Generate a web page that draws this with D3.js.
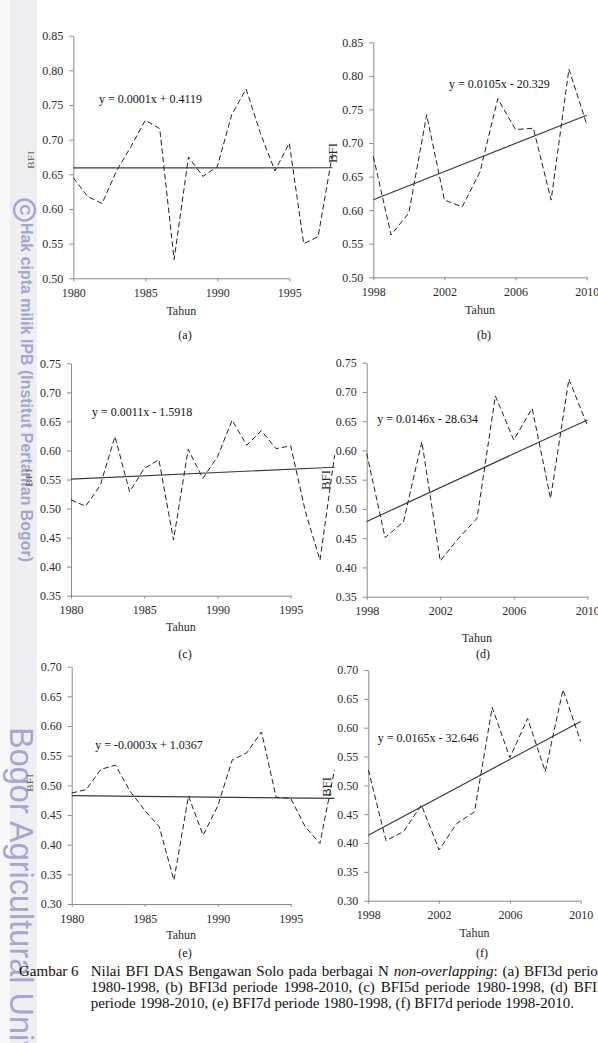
<!DOCTYPE html>
<html>
<head>
<meta charset="utf-8">
<script src="https://cdn.jsdelivr.net/npm/d3@7"></script>
<style>
  body { margin: 0; background: #fff; }
  svg { display: block; }
</style>
</head>
<body>
<div id="container"></div>
<script>
/* data */
var yearsEarly = [1980, 1981, 1982, 1983, 1984, 1985, 1986, 1987, 1988, 1989,
                  1990, 1991, 1992, 1993, 1994, 1995, 1996, 1997, 1998];
var yearsLate = [1998, 1999, 2000, 2001, 2002, 2003, 2004, 2005, 2006, 2007, 2008, 2009, 2010];

var bfi3dEarly = [0.645, 0.618, 0.608, 0.655, 0.690, 0.728, 0.716, 0.527, 0.675, 0.647,
                  0.661, 0.736, 0.773, 0.709, 0.655, 0.695, 0.550, 0.560, 0.680];
var bfi3dLate = [0.680, 0.563, 0.596, 0.742, 0.615, 0.605, 0.657, 0.766, 0.720, 0.722, 0.615, 0.810, 0.728];

var bfi5dEarly = [0.515, 0.504, 0.540, 0.624, 0.529, 0.569, 0.584, 0.446, 0.602, 0.552,
                  0.589, 0.652, 0.609, 0.634, 0.603, 0.608, 0.495, 0.411, 0.592];
var bfi5dLate = [0.595, 0.451, 0.478, 0.615, 0.411, 0.450, 0.484, 0.693, 0.618, 0.672, 0.518, 0.722, 0.643];

var bfi7dEarly = [0.487, 0.493, 0.527, 0.534, 0.490, 0.458, 0.430, 0.340, 0.482, 0.416,
                  0.465, 0.543, 0.555, 0.590, 0.480, 0.478, 0.430, 0.402, 0.526];
var bfi7dLate = [0.527, 0.404, 0.420, 0.466, 0.388, 0.434, 0.454, 0.635, 0.548, 0.616, 0.524, 0.666, 0.576];

var equations = ["y = 0.0001x + 0.4119", "y = 0.0105x - 20.329",
                 "y = 0.0011x - 1.5918", "y = 0.0146x - 28.634",
                 "y = -0.0003x + 1.0367", "y = 0.0165x - 32.646"];
var panelNames = ["(a)", "(b)", "(c)", "(d)", "(e)", "(f)"];

var ticksEarly = [1980, 1985, 1990, 1995];
var ticksLate = [1998, 2002, 2006, 2010];
var ticks3d = [0.50, 0.55, 0.60, 0.65, 0.70, 0.75, 0.80, 0.85];
var ticks5d = [0.35, 0.40, 0.45, 0.50, 0.55, 0.60, 0.65, 0.70, 0.75];
var ticks7d = [0.30, 0.35, 0.40, 0.45, 0.50, 0.55, 0.60, 0.65, 0.70];

var xLabel = "Tahun", yLabel = "BFI";

var captionHead = "Gambar 6";
var captionLines = [
  ["Nilai BFI DAS Bengawan Solo pada berbagai N ", "non-overlapping", ": (a) BFI3d periode"],
  ["1980-1998, (b) BFI3d periode 1998-2010, (c) BFI5d periode 1980-1998, (d) BFI5d"],
  ["periode 1998-2010, (e) BFI7d periode 1980-1998, (f) BFI7d periode 1998-2010."]
];

/* panel layout (pixels) */
var panels = [
  { years: yearsEarly, vals: bfi3dEarly, xt: ticksEarly, yt: ticks3d,
    l: 73.3, r: 289.3, t: 35.7, b: 278.3, eq: [99, 103], lab: [185, 339], tah: 315,
    yl: [34, 160], small: true },
  { years: yearsLate, vals: bfi3dLate, xt: ticksLate, yt: ticks3d,
    l: 373.3, r: 586.7, t: 42.3, b: 277.3, eq: [449, 88], lab: [484, 339], tah: 314,
    yl: [336.5, 153], small: false },
  { years: yearsEarly, vals: bfi5dEarly, xt: ticksEarly, yt: ticks5d,
    l: 71, r: 290.7, t: 363.3, b: 595.7, eq: [92, 416], lab: [185, 658], tah: 631,
    yl: [32, 478], small: true },
  { years: yearsLate, vals: bfi5dLate, xt: ticksLate, yt: ticks5d,
    l: 366.7, r: 587.3, t: 362.7, b: 596.7, eq: [377.3, 423], lab: [483, 658], tah: 642,
    yl: [329.5, 480], small: false },
  { years: yearsEarly, vals: bfi7dEarly, xt: ticksEarly, yt: ticks7d,
    l: 71.7, r: 290.7, t: 666.7, b: 904, eq: [95.3, 749], lab: [185, 957], tah: 939,
    yl: [33, 783], small: true },
  { years: yearsLate, vals: bfi7dLate, xt: ticksLate, yt: ticks7d,
    l: 368.3, r: 580.7, t: 670, b: 900.7, eq: [377.7, 742], lab: [482, 957], tah: 937,
    yl: [331, 787], small: false }
];

var width = 598, height = 1043;
var serif = "'Liberation Serif', 'Times New Roman', serif";
var sans = "'Liberation Sans', Arial, sans-serif";

var svg = d3.select("#container")
  .append("svg")
  .attr("width", width)
  .attr("height", height)
  .style("font-family", serif);

svg.append("rect").attr("width", width).attr("height", height).attr("fill", "#fff");

/* left watermark strip */
svg.append("rect").attr("x", 0).attr("y", 0).attr("width", 10).attr("height", height).attr("fill", "#f8f8f9");
svg.append("rect").attr("x", 10).attr("y", 0).attr("width", 27).attr("height", height).attr("fill", "#efeff1");

var wm = "#a6a6d2";
svg.append("circle").attr("cx", 24.5).attr("cy", 210).attr("r", 10.5)
  .attr("fill", "none").attr("stroke", wm).attr("stroke-width", 2.4);
svg.append("text")
  .attr("transform", "translate(19.5,210) rotate(90)")
  .attr("text-anchor", "middle")
  .style("font-family", sans)
  .attr("font-weight", "bold").attr("font-size", 15)
  .attr("fill", wm).text("C");
svg.append("text")
  .attr("transform", "translate(20.5,223) rotate(90)")
  .style("font-family", sans)
  .attr("font-weight", "bold").attr("font-size", 16)
  .attr("fill", wm)
  .attr("textLength", 339).attr("lengthAdjust", "spacingAndGlyphs")
  .text("Hak cipta milik IPB (Institut Pertanian Bogor)");
svg.append("text")
  .attr("transform", "translate(10,727) rotate(90)")
  .style("font-family", sans)
  .attr("font-size", 32.5)
  .attr("fill", wm)
  .text("Bogor Agricultural University");

/* least squares fit used for the trend lines */
function linreg(xs, ys) {
  var mx = d3.mean(xs), my = d3.mean(ys), sxy = 0, sxx = 0;
  for (var i = 0; i < xs.length; ++i) {
    sxy += (xs[i] - mx) * (ys[i] - my);
    sxx += (xs[i] - mx) * (xs[i] - mx);
  }
  var m = sxy / sxx;
  return function(x) { return my + m * (x - mx); };
}

var axisColor = "#8a8a8a", textColor = "#2b2b2b";

panels.forEach(function(p, i) {
  var x = d3.scaleLinear().domain(d3.extent(p.xt)).range([p.l, p.r]);
  var y = d3.scaleLinear().domain(d3.extent(p.yt)).range([p.b, p.t]);

  var g = svg.append("g");

  var ya = g.append("g")
    .attr("transform", "translate(" + p.l + ",0)")
    .call(d3.axisLeft(y).tickValues(p.yt).tickFormat(d3.format(".2f"))
      .tickSize(4).tickSizeOuter(0).tickPadding(6));
  var xa = g.append("g")
    .attr("transform", "translate(0," + p.b + ")")
    .call(d3.axisBottom(x).tickValues(p.xt).tickFormat(d3.format("d"))
      .tickSize(3).tickSizeOuter(0).tickPadding(7));

  [ya, xa].forEach(function(a) {
    a.attr("font-family", null);
    a.select(".domain").attr("stroke", axisColor);
    a.selectAll(".tick line").attr("stroke", axisColor);
    a.selectAll("text").style("font-family", serif)
      .attr("font-size", 12).attr("fill", textColor);
  });

  var fit = linreg(p.years, p.vals);
  var yrs = [p.years[0], p.years[p.years.length - 1]];
  g.append("line")
    .attr("x1", x(yrs[0])).attr("y1", y(fit(yrs[0])))
    .attr("x2", x(yrs[1])).attr("y2", y(fit(yrs[1])))
    .attr("stroke", "#3a3a3a").attr("stroke-width", 1.2);

  var line = d3.line()
    .x(function(d, j) { return x(p.years[j]); })
    .y(function(d) { return y(d); });
  g.append("path")
    .datum(p.vals)
    .attr("d", line)
    .attr("fill", "none")
    .attr("stroke", "#222")
    .attr("stroke-width", 1)
    .attr("stroke-dasharray", "5.5,3");

  g.append("text")
    .attr("x", p.eq[0]).attr("y", p.eq[1])
    .attr("font-size", 12).attr("fill", "#111")
    .text(equations[i]);

  var tx = (p.l + p.r) / 2;
  g.append("text")
    .attr("x", tx).attr("y", p.tah)
    .attr("text-anchor", "middle")
    .attr("font-size", 12).attr("fill", textColor)
    .text(xLabel);

  g.append("text")
    .attr("x", p.lab[0]).attr("y", p.lab[1])
    .attr("text-anchor", "middle")
    .attr("font-size", 12).attr("fill", "#111")
    .text(panelNames[i]);

  var yl = g.append("text")
    .attr("transform", "translate(" + p.yl[0] + "," + p.yl[1] + ") rotate(-90)")
    .attr("text-anchor", "middle")
    .attr("fill", textColor)
    .text(yLabel);
  if (p.small) {
    yl.attr("font-size", 9).attr("textLength", 18).attr("lengthAdjust", "spacingAndGlyphs")
      .attr("fill", "#666");
  } else {
    yl.attr("font-size", 13);
  }
});

/* caption, justified like the printed page */
var capX = 90.7, capRight = 612;
var capY = [976, 992, 1008];

svg.append("text")
  .attr("x", 19).attr("y", capY[0])
  .attr("font-size", 15).attr("fill", "#111")
  .text(captionHead);

captionLines.forEach(function(parts, k) {
  var t = svg.append("text")
    .attr("x", capX).attr("y", capY[k])
    .attr("font-size", 15).attr("fill", "#111");
  parts.forEach(function(s, j) {
    var ts = t.append("tspan").text(s);
    if (parts.length > 1 && j === 1) ts.attr("font-style", "italic");
  });
  if (k < 2) {
    var n = t.node(), len = n.getComputedTextLength();
    var spaces = (n.textContent.match(/ /g) || []).length;
    t.attr("word-spacing", (capRight - capX - len) / spaces);
  }
});
</script>
</body>
</html>
